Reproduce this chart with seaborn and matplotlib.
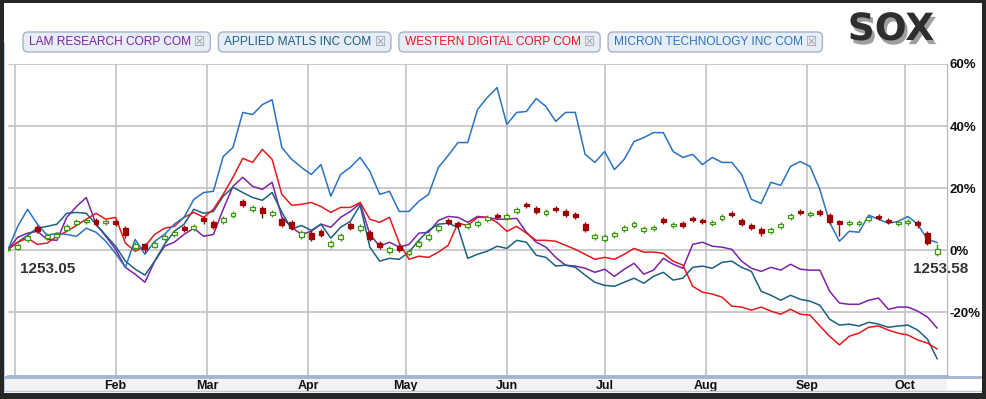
import matplotlib
matplotlib.use("Agg")
import matplotlib.pyplot as plt
import matplotlib.dates as mdates
import matplotlib.patheffects as pe
from matplotlib.patches import Rectangle, FancyBboxPatch
from matplotlib.transforms import IdentityTransform
import numpy as np
import pandas as pd
import seaborn as sns

# sample dates (every third calendar day)
dates = pd.date_range("2010-12-30", periods=96, freq="3D")

# % change vs. start
lam = [0.3, 4.2, 5.5, 6.1, 3.5, 3.2, 10.6, 14.1, 17.0, 8.4,
       4.5, 0.3, -5.5, -7.7, -10.3, -3.5, 1.3, 2.6, 5.1, 7.1,
       4.5, 5.1, 13.2, 20.6, 23.5, 20.6, 19.6, 21.9, 10.6, 7.4,
       5.1, 6.1, 8.4, 7.4, 10.6, 12.5, 15.1, 5.1, 1.3, 2.6,
       1.0, 1.9, 5.5, 5.8, 9.6, 10.9, 10.6, 9.0, 10.9, 10.6,
       10.0, 10.0, 10.3, 5.8, 2.6, 1.0, -2.3, -4.8, -5.1, -5.8,
       -7.1, -6.1, -8.4, -6.1, -4.2, -7.7, -6.4, -2.6, -4.5, -5.8,
       1.9, 2.6, 1.3, 1.0, 0.3, -3.5, -5.8, -6.8, -5.5, -6.4,
       -4.5, -6.1, -6.4, -6.4, -13.2, -17.0, -17.4, -17.4, -16.1, -15.4,
       -19.0, -18.3, -18.3, -19.6, -21.5, -25.1]
amat = [0.3, 2.6, 4.8, 7.1, 7.7, 8.4, 11.9, 12.2, 11.9, 8.4,
        4.8, 1.3, -3.5, -6.1, -8.0, -3.5, 1.9, 6.1, 8.4, 13.2,
        11.9, 12.5, 17.4, 20.3, 18.6, 17.0, 16.1, 18.6, 12.2, 6.8,
        8.0, 6.4, 8.4, 3.9, 7.4, 9.3, 14.5, 1.0, -3.5, -2.6,
        -2.9, -0.6, 3.2, 6.4, 8.4, 8.7, 7.4, -2.6, -1.3, -0.3,
        1.3, 0.6, 3.2, 2.6, -1.6, -2.3, -5.1, -4.8, -5.5, -8.0,
        -10.3, -11.3, -11.6, -10.3, -9.0, -10.6, -8.4, -7.1, -9.6, -9.0,
        -5.5, -5.1, -5.8, -3.9, -3.5, -5.5, -6.8, -13.2, -14.5, -16.1,
        -14.5, -15.8, -16.4, -17.7, -22.2, -24.1, -23.8, -24.4, -23.2, -23.8,
        -24.8, -24.4, -24.1, -25.7, -28.6, -35.0]
wdc = [0.3, 2.6, 3.9, 1.9, 2.3, 4.5, 6.1, 8.0, 10.0, 11.9,
       10.0, 10.6, 2.3, -0.3, 1.3, 5.1, 7.1, 7.7, 10.6, 12.2,
       10.6, 13.2, 18.0, 23.5, 29.6, 28.3, 32.5, 29.3, 18.0, 14.5,
       14.8, 15.4, 14.1, 12.2, 13.8, 13.8, 15.4, 10.0, 9.0, 10.6,
       2.3, -2.9, -1.9, -2.3, -0.6, 1.6, 8.7, 8.0, 10.6, 10.6,
       9.0, 6.1, 7.7, 5.5, 3.2, 3.2, 2.9, 1.6, 0.3, -1.3,
       -2.9, -2.3, -2.9, -1.3, 0.6, -0.6, -0.6, -1.0, -3.5, -4.8,
       -11.6, -13.5, -14.1, -15.1, -18.0, -18.3, -19.3, -18.3, -19.6, -20.6,
       -19.0, -20.6, -20.9, -24.4, -27.7, -30.5, -27.7, -26.7, -24.8, -24.4,
       -25.7, -26.7, -27.3, -28.9, -29.9, -31.8]
micron = [0.3, 7.7, 13.2, 8.4, 4.8, 5.5, 5.1, 4.5, 7.1, 5.8,
          2.9, -1.0, -5.5, 3.5, -1.3, 2.9, 5.1, 8.4, 10.6, 16.4,
          18.6, 19.0, 30.2, 33.1, 44.4, 43.7, 46.9, 48.5, 33.1, 29.3,
          26.7, 24.4, 27.6, 17.4, 24.4, 26.7, 29.9, 25.4, 18.0, 19.0,
          12.5, 12.5, 15.8, 18.0, 26.7, 30.5, 34.7, 34.7, 45.3, 49.2,
          52.4, 40.5, 44.4, 44.7, 48.9, 46.3, 41.5, 44.4, 44.4, 30.9,
          28.3, 31.8, 26.0, 29.3, 35.0, 36.3, 37.9, 37.9, 31.8, 29.9,
          30.9, 27.6, 29.9, 28.3, 28.3, 24.4, 16.4, 15.1, 21.9, 20.9,
          27.0, 28.6, 27.0, 19.6, 9.0, 2.9, 6.1, 5.8, 11.3, 10.0,
          8.7, 9.3, 10.9, 8.4, 3.5, 2.5]

# SOX candles (% vs. start)
sox_open = [0.0, 0.3, 3.2, 7.4, 3.9, 4.2, 6.4, 8.4, 9.0, 9.6,
            8.7, 9.3, 7.1, 0.6, 1.9, 1.0, 3.5, 4.8, 7.4, 6.8,
            10.3, 9.0, 9.0, 10.9, 15.8, 12.9, 13.5, 11.3, 10.0, 9.0,
            4.2, 5.5, 6.1, 1.3, 3.5, 8.4, 6.4, 5.8, 2.3, -0.6,
            1.3, -1.3, 1.3, 3.5, 6.4, 9.6, 8.7, 7.4, 8.0, 9.6,
            11.3, 10.3, 12.2, 14.8, 13.5, 11.6, 13.5, 12.5, 11.6, 8.4,
            3.9, 3.2, 4.5, 6.4, 7.7, 6.1, 6.8, 10.0, 7.7, 8.7,
            10.3, 9.6, 8.4, 10.0, 11.9, 9.6, 8.0, 6.8, 5.8, 7.4,
            10.3, 12.5, 11.3, 12.5, 11.3, 9.3, 8.4, 8.4, 9.6, 10.9,
            9.6, 8.4, 8.7, 9.0, 5.5, -1.3]
sox_close = [0.3, 1.6, 4.5, 6.1, 4.8, 5.1, 7.7, 9.3, 9.6, 8.4,
             9.3, 8.4, 4.8, 1.9, 0.3, 2.3, 4.5, 5.8, 6.4, 7.7,
             9.3, 7.4, 10.3, 11.9, 14.5, 13.8, 11.9, 12.2, 8.0, 7.1,
             5.8, 3.5, 4.8, 2.6, 4.8, 7.1, 7.7, 3.5, 1.0, 0.6,
             0.0, -0.3, 2.6, 4.8, 7.7, 8.7, 7.7, 8.4, 9.0, 10.6,
             10.6, 11.3, 13.2, 14.1, 12.2, 12.5, 12.9, 11.3, 10.6, 6.4,
             4.8, 4.5, 5.5, 7.4, 8.7, 7.1, 7.4, 9.0, 8.4, 7.7,
             9.6, 9.0, 9.0, 10.9, 11.3, 8.4, 7.1, 5.5, 6.8, 8.4,
             11.3, 11.9, 11.9, 11.6, 9.0, 8.4, 9.0, 9.0, 10.6, 10.3,
             9.0, 9.0, 9.3, 8.0, 2.3, 0.3]
sox_high = [0.6, 2.3, 5.1, 8.0, 5.5, 5.8, 8.4, 10.0, 10.3, 10.3,
            10.0, 9.6, 7.7, 2.6, 2.3, 2.9, 5.1, 6.4, 8.0, 8.4,
            10.9, 9.6, 11.0, 12.5, 16.4, 14.5, 14.1, 12.9, 10.6, 9.6,
            6.4, 6.1, 6.8, 3.2, 5.5, 9.0, 8.4, 6.4, 2.9, 1.3,
            1.9, 0.3, 3.2, 5.5, 8.4, 10.3, 9.3, 9.0, 9.6, 11.3,
            11.9, 11.9, 13.8, 15.4, 14.1, 13.2, 14.1, 13.2, 12.2, 9.0,
            5.5, 5.1, 6.1, 8.0, 9.3, 7.7, 8.0, 10.6, 9.0, 9.3,
            10.9, 10.3, 9.6, 11.6, 12.5, 10.3, 8.7, 7.4, 7.4, 9.0,
            11.9, 13.2, 12.5, 13.2, 11.9, 9.6, 9.6, 9.6, 11.3, 11.6,
            10.3, 9.6, 10.0, 9.6, 6.1, 1.9]
sox_low = [-0.3, 0.0, 2.6, 5.5, 3.2, 3.5, 6.1, 8.0, 8.4, 7.7,
           8.0, 7.7, 3.9, -0.3, -0.6, 0.6, 2.9, 4.2, 5.8, 6.1,
           8.4, 6.8, 8.4, 10.3, 13.8, 12.2, 10.3, 10.6, 7.4, 6.4,
           3.5, 2.9, 4.2, 0.6, 2.9, 6.4, 5.8, 2.9, 0.3, -1.3,
           -0.6, -1.9, 0.6, 2.9, 5.8, 8.0, 7.1, 6.8, 7.4, 9.0,
           10.0, 9.6, 11.6, 13.5, 11.6, 11.0, 12.2, 10.6, 10.0, 5.8,
           3.2, 2.6, 3.9, 5.8, 7.1, 5.5, 6.1, 8.4, 7.1, 7.1,
           9.0, 8.4, 7.7, 9.3, 10.6, 7.7, 6.4, 4.5, 5.1, 6.8,
           9.6, 11.3, 10.6, 10.9, 8.4, 4.5, 7.7, 7.7, 9.0, 9.6,
           8.4, 7.7, 8.0, 7.1, 1.6, -1.9]

series_names = ["LAM RESEARCH CORP COM", "APPLIED MATLS INC COM",
                "WESTERN DIGITAL CORP COM", "MICRON TECHNOLOGY INC COM"]
series_colors = ["#7d22a8", "#1d5f80", "#e3191d", "#2b72c0"]
y_ticks = [-20, 0, 20, 40, 60]
y_labels = ["-20%", "0%", "20%", "40%", "60%"]
start_label = "1253.05"
end_label = "1253.58"
index_name = "SOX"

W, H = 987, 399

sns.set_style("white")
plt.rcParams["font.family"] = ["Liberation Sans", "DejaVu Sans"]

fig = plt.figure(figsize=(W / 100, H / 100), dpi=100)
ax = fig.add_axes([8 / W, 23 / H, 939 / W, 312 / H])

df = pd.DataFrame({
    "date": np.tile(dates, 4),
    "pct": lam + amat + wdc + micron,
    "name": np.repeat(series_names, len(dates)),
})
sns.lineplot(data=df, x="date", y="pct", hue="name", hue_order=series_names,
             palette=dict(zip(series_names, series_colors)), linewidth=1.1,
             estimator=None, legend=False, ax=ax, zorder=3)

# candlesticks for the index
o = np.array(sox_open)
c = np.array(sox_close)
up = c >= o
wick_cols = np.where(up, "#3c9a10", "#a00000")
ax.vlines(dates, sox_low, sox_high, colors=wick_cols, linewidth=1.0, zorder=4)
ax.bar(dates[up], (c - o)[up], bottom=o[up], width=1.5,
       facecolor="white", edgecolor="#3c9a10", linewidth=0.9, zorder=5)
ax.bar(dates[~up], (c - o)[~up], bottom=o[~up], width=1.5,
       facecolor="#a00000", edgecolor="#a00000", linewidth=0.9, zorder=5)

ax.set_xlim(pd.Timestamp("2010-12-30"), pd.Timestamp("2011-10-14"))
ax.set_ylim(-40.5, 60)
ax.set_xlabel("")
ax.set_ylabel("")

ax.xaxis.set_major_locator(mdates.MonthLocator())
ax.xaxis.set_major_formatter(plt.FuncFormatter(
    lambda v, p: "" if mdates.num2date(v).month == 1 else mdates.num2date(v).strftime("%b")))
ax.yaxis.tick_right()
ax.set_yticks(y_ticks)
ax.set_yticklabels(y_labels)
ax.tick_params(axis="y", length=0, pad=2, labelsize=9.5)
ax.tick_params(axis="x", length=0, pad=3, labelsize=9)
for lab in ax.get_xticklabels() + ax.get_yticklabels():
    lab.set_fontweight("bold")
    lab.set_color("#111111")

ax.grid(True, color="#c2c2c2", linewidth=1.2)
ax.set_axisbelow(True)
for side in ["top", "left"]:
    ax.spines[side].set_visible(False)
ax.spines["right"].set_color("#b5b5b5")
ax.spines["bottom"].set_color("#9fb3d3")
ax.spines["bottom"].set_linewidth(2)

ax.text(12 / 939, 0.342, start_label, transform=ax.transAxes, fontsize=11,
        fontweight="bold", color="#333333", va="center", ha="left")
fig.text(968 / W, 1 - 269 / H, end_label, fontsize=11, fontweight="bold",
         color="#333333", va="center", ha="right")

# frame, date band and left rule
fig.add_artist(Rectangle((4 / W, 8 / H), 943 / W, 14 / H, transform=fig.transFigure,
                         facecolor="#f1f3f3", edgecolor="none", zorder=0))
fig.add_artist(plt.Line2D([4 / W, 982 / W], [22 / H, 22 / H], transform=fig.transFigure,
                          color="#a3b5d3", linewidth=2))
fig.add_artist(plt.Line2D([4 / W, 982 / W], [8 / H, 8 / H], transform=fig.transFigure,
                          color="#b8c8e0", linewidth=1))
fig.add_artist(plt.Line2D([4.5 / W, 4.5 / W], [8 / H, 356 / H], transform=fig.transFigure,
                          color="#a8c0e8", linewidth=1.2))
dark = "#262626"
for rect in [(0, 0, 4, H), (0, H - 3, W, 3), (982, 0, 5, H), (0, 0, W, 6)]:
    fig.add_artist(Rectangle((rect[0] / W, rect[1] / H), rect[2] / W, rect[3] / H,
                             transform=fig.transFigure, facecolor=dark,
                             edgecolor="none", zorder=10))

fig.text(891 / W, 1 - 30 / H, index_name, fontsize=27, fontweight="bold",
         family="DejaVu Sans", color="#2e2e2e", ha="center", va="center",
         path_effects=[pe.SimplePatchShadow(offset=(2, -3), shadow_rgbFace="#777777",
                                            alpha=0.7), pe.Normal()])

# legend chips
fig.canvas.draw()
r = fig.canvas.get_renderer()
x_px = 23
for name, col in zip(series_names, series_colors):
    t = fig.text((x_px + 6) / W, 1 - 42 / H, name, color=col, fontsize=8.6,
                 va="center", ha="left", zorder=3)
    bb = t.get_window_extent(r)
    ic = fig.text((bb.x1 + 3) / W, 1 - 42 / H, "\u2612", color="#9a9a9a",
                  fontsize=9, family="DejaVu Sans", va="center", ha="left", zorder=3)
    bb2 = ic.get_window_extent(r)
    x_end = bb2.x1 + 5
    fig.add_artist(FancyBboxPatch((x_px, H - 52), x_end - x_px, 20,
                                  boxstyle="round,pad=0,rounding_size=5",
                                  transform=IdentityTransform(), facecolor="#e7edf7",
                                  edgecolor="#a6b3c6", linewidth=1, zorder=2))
    x_px = x_end + 8

fig.savefig("out.png", dpi=100)
